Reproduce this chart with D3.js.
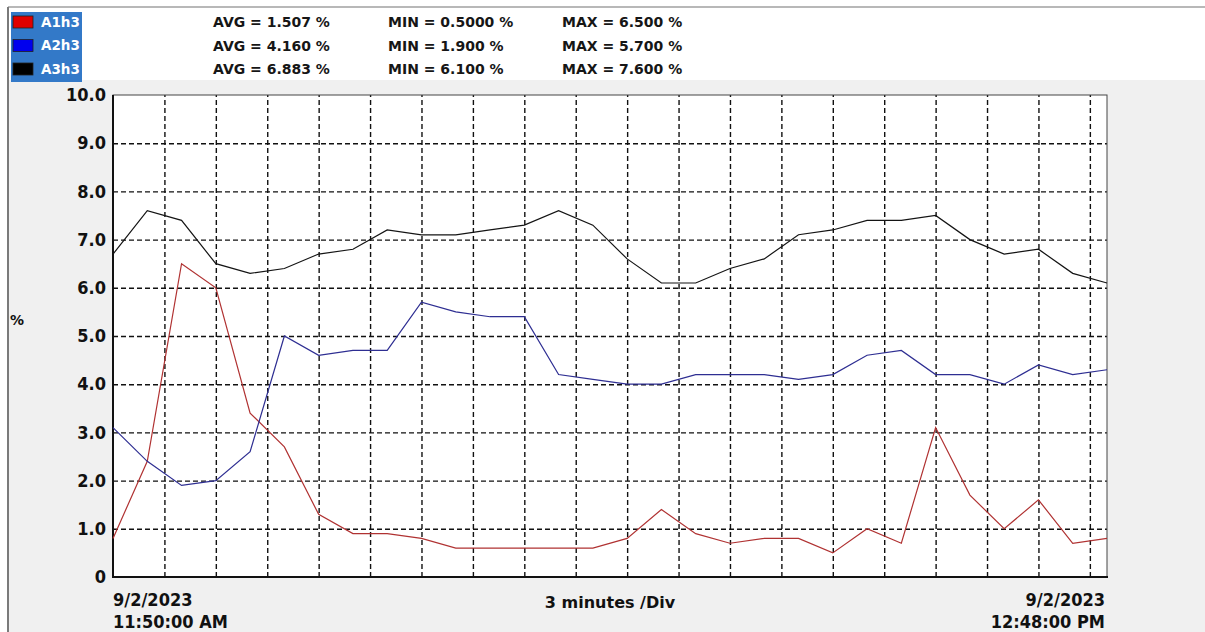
<!DOCTYPE html>
<html>
<head>
<meta charset="utf-8">
<script src="https://cdn.jsdelivr.net/npm/d3@7"></script>
<style>
  html, body { margin: 0; padding: 0; background: #fff; }
  svg { display: block; }
  .cond { font-family: "DejaVu Sans Condensed", "DejaVu Sans", sans-serif; font-stretch: condensed; font-weight: bold; }
  .wide { font-family: "DejaVu Sans", Verdana, sans-serif; font-weight: bold; }
</style>
</head>
<body>
<div id="chart"></div>
<script>
// sample times (every 2 minutes) on 9/2/2023
var times = ["11:50","11:52","11:54","11:56","11:58","12:00","12:02","12:04","12:06","12:08",
             "12:10","12:12","12:14","12:16","12:18","12:20","12:22","12:24","12:26","12:28",
             "12:30","12:32","12:34","12:36","12:38","12:40","12:42","12:44","12:46","12:48"];

var seriesNames = ["A1h3", "A2h3", "A3h3"];

var a1h3 = [0.8, 2.4, 6.5, 6.0, 3.4, 2.7, 1.3, 0.9, 0.9, 0.8,
            0.6, 0.6, 0.6, 0.6, 0.6, 0.8, 1.4, 0.9, 0.7, 0.8,
            0.8, 0.5, 1.0, 0.7, 3.1, 1.7, 1.0, 1.6, 0.7, 0.8];
var a2h3 = [3.1, 2.4, 1.9, 2.0, 2.6, 5.0, 4.6, 4.7, 4.7, 5.7,
            5.5, 5.4, 5.4, 4.2, 4.1, 4.0, 4.0, 4.2, 4.2, 4.2,
            4.1, 4.2, 4.6, 4.7, 4.2, 4.2, 4.0, 4.4, 4.2, 4.3];
var a3h3 = [6.7, 7.6, 7.4, 6.5, 6.3, 6.4, 6.7, 6.8, 7.2, 7.1,
            7.1, 7.2, 7.3, 7.6, 7.3, 6.6, 6.1, 6.1, 6.4, 6.6,
            7.1, 7.2, 7.4, 7.4, 7.5, 7.0, 6.7, 6.8, 6.3, 6.1];

var statAvg = ["1.507", "4.160", "6.883"];
var statMin = ["0.5000", "1.900", "6.100"];
var statMax = ["6.500", "5.700", "7.600"];

var yTicks = [0, 1, 2, 3, 4, 5, 6, 7, 8, 9, 10];
var yTickLabels = ["0", "1.0", "2.0", "3.0", "4.0", "5.0", "6.0", "7.0", "8.0", "9.0", "10.0"];

// one vertical grid line every 3 minutes
var gridTimes = ["11:53","11:56","11:59","12:02","12:05","12:08","12:11","12:14","12:17","12:20",
                 "12:23","12:26","12:29","12:32","12:35","12:38","12:41","12:44","12:47"];

(function(){
  var parse = d3.timeParse("%Y-%m-%d %H:%M");
  function toDate(t) { return parse("2023-09-02 " + t); }

  var W = 1205, H = 632;
  var pL = 113, pR = 1107, pT = 95, pB = 577;

  var svg = d3.select("#chart").append("svg")
    .attr("width", W).attr("height", H);

  // window background
  svg.append("rect").attr("width", W).attr("height", H).attr("fill", "#fff");
  svg.append("rect").attr("x", 8).attr("y", 80).attr("width", W - 8).attr("height", H - 80).attr("fill", "#f0f0f0");
  svg.append("line").attr("x1", 8).attr("x2", W).attr("y1", 7).attr("y2", 7).attr("stroke", "#a0a0a0").attr("stroke-width", 1.5);
  svg.append("line").attr("x1", 8).attr("x2", 8).attr("y1", 7).attr("y2", H).attr("stroke", "#7a7a7a").attr("stroke-width", 2);

  // legend
  var colors = ["#e00000", "#0000ee", "#000000"];
  var lineColors = ["#b03232", "#2e2e92", "#141414"];
  var rowY = [22, 45.5, 69];

  svg.append("rect").attr("x", 11).attr("y", 12).attr("width", 71).attr("height", 70).attr("fill", "#3379c8");

  var rows = svg.append("g").selectAll("g")
    .data(seriesNames)
    .join("g")
      .attr("transform", function(d, i){ return "translate(0," + rowY[i] + ")"; });

  rows.append("rect")
    .attr("x", 13).attr("y", -6).attr("width", 20).attr("height", 12)
    .attr("fill", function(d, i){ return colors[i]; })
    .attr("stroke", "#222").attr("stroke-width", 0.8);

  rows.append("text").attr("class", "wide")
    .attr("x", 41).attr("dy", "0.36em")
    .attr("font-size", 13.5).attr("fill", "#fff")
    .text(function(d){ return d; });

  rows.append("text").attr("class", "wide")
    .attr("x", 213).attr("dy", "0.36em").attr("font-size", 14).attr("fill", "#161616")
    .text(function(d, i){ return "AVG = " + statAvg[i] + " %"; });
  rows.append("text").attr("class", "wide")
    .attr("x", 388).attr("dy", "0.36em").attr("font-size", 14).attr("fill", "#161616")
    .text(function(d, i){ return "MIN = " + statMin[i] + " %"; });
  rows.append("text").attr("class", "wide")
    .attr("x", 562).attr("dy", "0.36em").attr("font-size", 14).attr("fill", "#161616")
    .text(function(d, i){ return "MAX = " + statMax[i] + " %"; });

  // scales
  var x = d3.scaleTime()
    .domain([toDate(times[0]), toDate(times[times.length - 1])])
    .range([pL, pR]);
  var y = d3.scaleLinear().domain([0, 10]).range([pB, pT]);

  // plot area
  svg.append("rect")
    .attr("x", pL).attr("y", pT).attr("width", pR - pL).attr("height", pB - pT)
    .attr("fill", "#fff");

  // grid
  var gy = svg.append("g")
    .attr("transform", "translate(" + pL + ",0)")
    .call(d3.axisLeft(y).tickValues(yTicks.slice(1, 10)).tickSize(-(pR - pL)).tickFormat(""));
  gy.select(".domain").remove();
  gy.selectAll("line").attr("stroke", "#111").attr("stroke-width", 1.4).attr("stroke-dasharray", "5,3");

  var gx = svg.append("g")
    .attr("transform", "translate(0," + pB + ")")
    .call(d3.axisBottom(x).tickValues(gridTimes.map(toDate)).tickSize(-(pB - pT)).tickFormat(""));
  gx.select(".domain").remove();
  gx.selectAll("line").attr("stroke", "#111").attr("stroke-width", 1.4).attr("stroke-dasharray", "5,3");

  // frame
  svg.append("rect")
    .attr("x", pL).attr("y", pT).attr("width", pR - pL).attr("height", pB - pT)
    .attr("fill", "none").attr("stroke", "#444").attr("stroke-width", 1);
  svg.append("line").attr("x1", pL).attr("x2", pL).attr("y1", pT).attr("y2", pB + 1)
    .attr("stroke", "#111").attr("stroke-width", 2);
  svg.append("line").attr("x1", pL).attr("x2", pR + 1).attr("y1", pB).attr("y2", pB)
    .attr("stroke", "#111").attr("stroke-width", 2);

  // y labels
  var ya = svg.append("g")
    .attr("transform", "translate(" + (pL - 7) + ",0)")
    .call(d3.axisLeft(y).tickValues(yTicks).tickSize(0)
      .tickFormat(function(d, i){ return yTickLabels[i]; }));
  ya.select(".domain").remove();
  ya.selectAll("text")
    .attr("class", "cond").attr("x", 0)
    .attr("font-size", 18).attr("fill", "#111");

  // series lines
  var line = d3.line()
    .x(function(d, i){ return x(toDate(times[i])); })
    .y(function(d){ return y(d); });

  svg.append("g").selectAll("path")
    .data([a1h3, a2h3, a3h3])
    .join("path")
      .attr("d", line)
      .attr("fill", "none")
      .attr("stroke", function(d, i){ return lineColors[i]; })
      .attr("stroke-width", 1.2);

  // axis captions
  svg.append("text").attr("class", "wide")
    .attr("x", 10).attr("y", 320).attr("dy", "0.36em").attr("font-size", 14).attr("fill", "#111")
    .text("%");

  var fmtDate = d3.timeFormat("%-m/%-d/%Y");
  var fmtTime = d3.timeFormat("%-I:%M:%S %p");
  var t0 = toDate(times[0]), t1 = toDate(times[times.length - 1]);

  svg.append("text").attr("class", "cond").attr("font-size", 18).attr("fill", "#111")
    .attr("x", pL).attr("y", 600).attr("dy", "0.36em").text(fmtDate(t0));
  svg.append("text").attr("class", "cond").attr("font-size", 18).attr("fill", "#111")
    .attr("x", pL).attr("y", 622).attr("dy", "0.36em").text(fmtTime(t0));
  svg.append("text").attr("class", "cond").attr("font-size", 18).attr("fill", "#111")
    .attr("text-anchor", "end")
    .attr("x", pR - 2).attr("y", 600).attr("dy", "0.36em").text(fmtDate(t1));
  svg.append("text").attr("class", "cond").attr("font-size", 18).attr("fill", "#111")
    .attr("text-anchor", "end")
    .attr("x", pR - 2).attr("y", 622).attr("dy", "0.36em").text(fmtTime(t1));

  svg.append("text").attr("class", "wide").attr("font-size", 16).attr("fill", "#111")
    .attr("text-anchor", "middle")
    .attr("x", 610).attr("y", 602).attr("dy", "0.36em").text("3 minutes /Div");
})();
</script>
</body>
</html>
